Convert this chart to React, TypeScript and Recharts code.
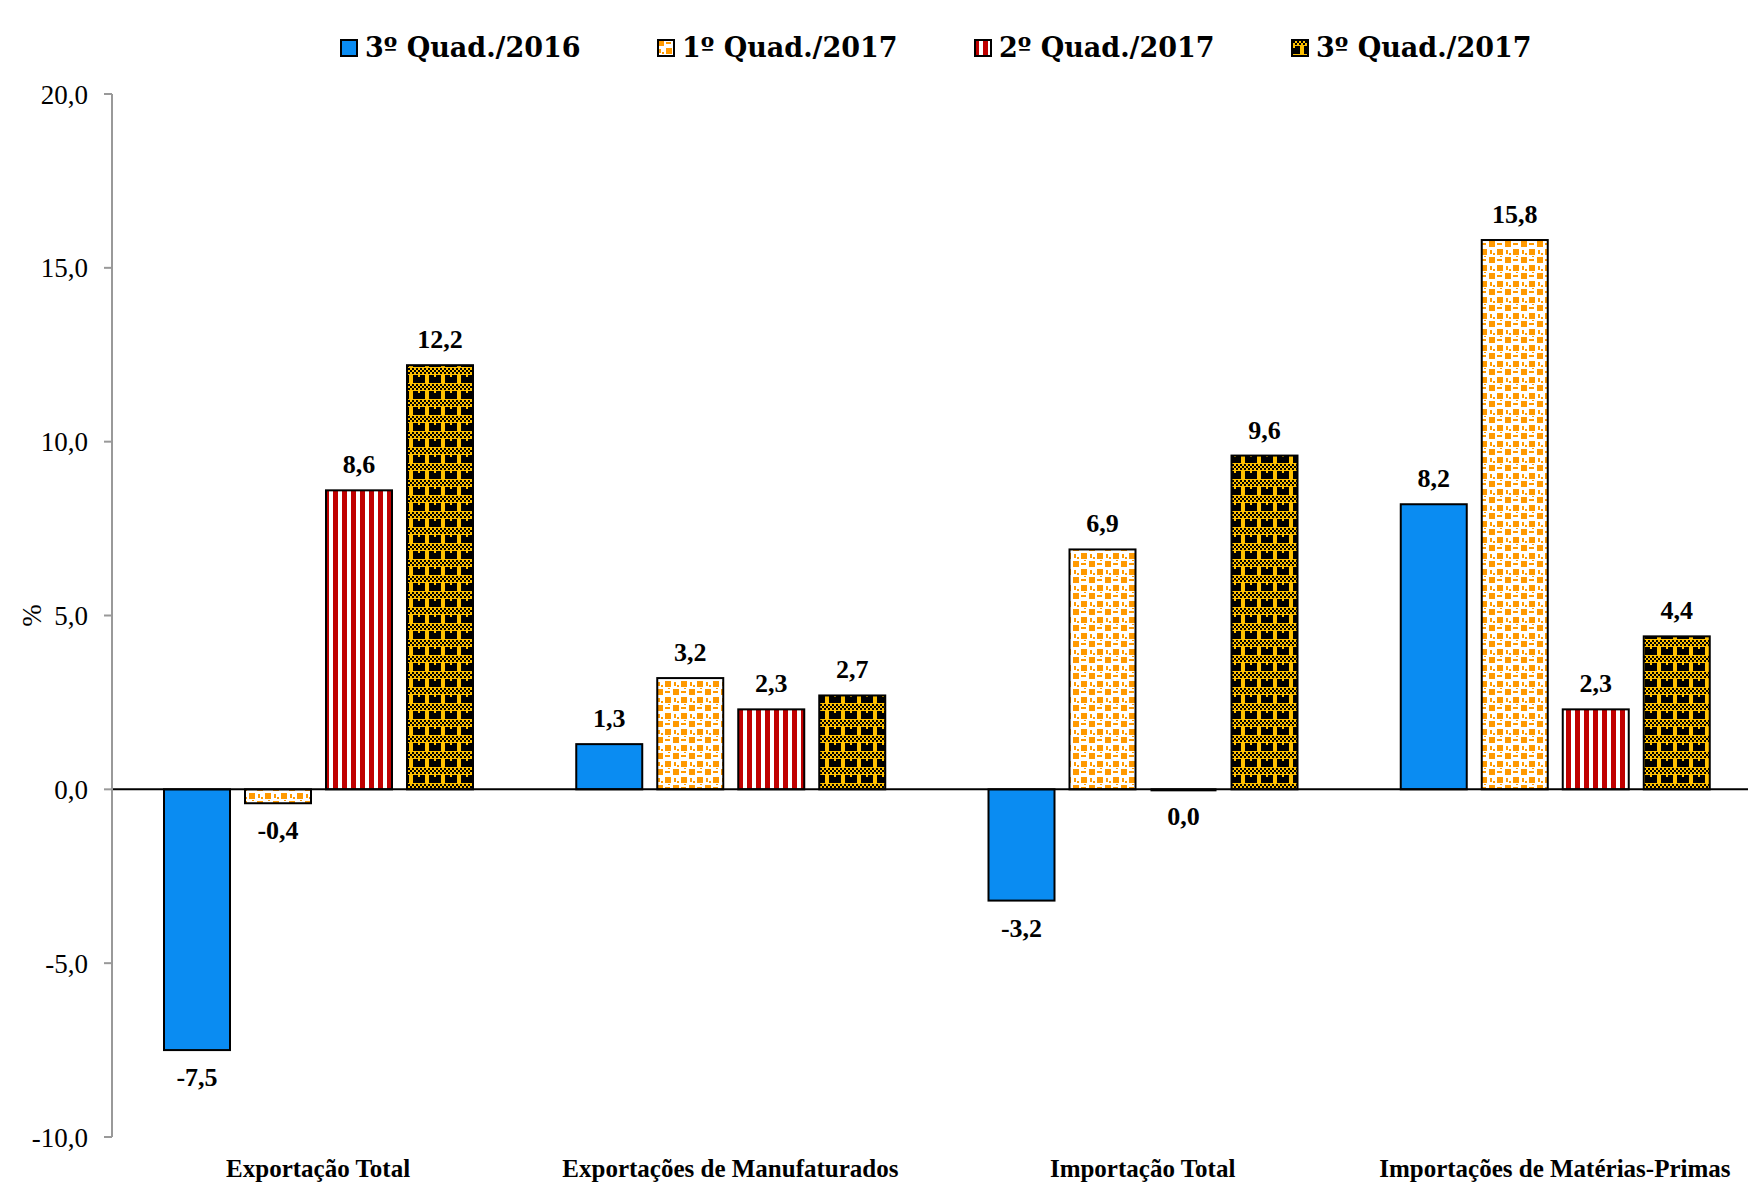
import React from 'react'
import { Bar, BarChart, XAxis, YAxis, Legend, LabelList, ReferenceLine } from 'recharts'

const categories = [
  'Exportação Total',
  'Exportações de Manufaturados',
  'Importação Total',
  'Importações de Matérias-Primas',
]

const q3_2016 = [-7.5, 1.3, -3.2, 8.2]
const q1_2017 = [-0.4, 3.2, 6.9, 15.8]
const q2_2017 = [8.6, 2.3, 0.0, 2.3]
const q3_2017 = [12.2, 2.7, 9.6, 4.4]

const yTicks = [-10, -5, 0, 5, 10, 15, 20]

const seriesNames = ['3º Quad./2016', '1º Quad./2017', '2º Quad./2017', '3º Quad./2017']
const seriesKeys = ['q3_2016', 'q1_2017', 'q2_2017', 'q3_2017']
const seriesFills = ['#0A8CF2', 'url(#patOrange)', 'url(#patRed)', 'url(#patGold)']

const data = categories.map((name, i) => ({
  name,
  q3_2016: q3_2016[i],
  q1_2017: q1_2017[i],
  q2_2017: q2_2017[i],
  q3_2017: q3_2017[i],
}))

const FONT = '"Liberation Serif", serif'
const LEGEND_FONT = '"DejaVu Serif", serif'
const fmt = (v: number) => v.toFixed(1).replace('.', ',')

function Patterns() {
  const checks: React.ReactNode[] = []
  for (let r = 0; r < 3; r++) {
    for (let c = 0; c < 4; c++) {
      checks.push(<rect key={`${r}-${c}`} x={c * 4 + (r % 2) * 2} y={r * 2} width={2} height={2} fill="#000" />)
    }
  }
  return (
    <svg width={0} height={0} style={{ position: 'absolute' }}>
      <defs>
        <pattern id="patOrange" width={16} height={16} patternUnits="userSpaceOnUse">
          <rect width={16} height={16} fill="#fff" />
          <rect x={1} y={1} width={6} height={6} fill="#FF9900" />
          <rect x={9} y={9} width={6} height={6} fill="#FF9900" />
          <rect x={9} y={3} width={5} height={2} fill="#FF9900" />
          <rect x={2} y={10} width={2} height={4} fill="#FF9900" />
          <rect x={12} y={0} width={2} height={1} fill="#FF9900" />
          <rect x={5} y={13} width={2} height={2} fill="#FF9900" />
        </pattern>
        <pattern id="patRed" width={9} height={9} patternUnits="userSpaceOnUse">
          <rect width={9} height={9} fill="#fff" />
          <rect x={0} y={0} width={5} height={9} fill="#C00000" />
        </pattern>
        <pattern id="patGold" width={16} height={16} patternUnits="userSpaceOnUse">
          <rect width={16} height={16} fill="#FFC000" />
          {checks}
          <rect x={0} y={7} width={9} height={8} fill="#000" />
          <rect x={13} y={7} width={3} height={8} fill="#000" />
          <rect x={2} y={7} width={2} height={2} fill="#FFC000" />
        </pattern>
      </defs>
    </svg>
  )
}

function BarShape(props: any) {
  const { x, y, width, height, fill } = props
  const top = Math.min(y, y + height)
  const h = Math.abs(height)
  if (h < 1) {
    return <rect x={x} y={top - 1} width={width} height={3} fill="#000" />
  }
  return <rect x={x} y={top} width={width} height={h} fill={fill} stroke="#000" strokeWidth={2} />
}

function ValueLabel(props: any) {
  const { x, y, width, height, value } = props
  const top = Math.min(y, y + height)
  const bottom = Math.max(y, y + height)
  const above = value > 0
  return (
    <text
      x={x + width / 2}
      y={above ? top - 17 : bottom + 36}
      textAnchor="middle"
      fontFamily={FONT}
      fontWeight="bold"
      fontSize={26}
      fill="#000"
    >
      {fmt(value)}
    </text>
  )
}

function CategoryTick({ x, y, payload }: any) {
  return (
    <text x={x} y={y + 32} textAnchor="middle" fontFamily={FONT} fontWeight="bold" fontSize={25} fill="#000">
      {payload.value}
    </text>
  )
}

function LegendContent() {
  return (
    <div style={{ display: 'flex', paddingLeft: 340, fontFamily: LEGEND_FONT, fontWeight: 'bold', fontSize: 27, lineHeight: '50px' }}>
      {seriesNames.map((n, i) => (
        <div key={n} style={{ display: 'flex', alignItems: 'center', gap: 7, width: 317 }}>
          <svg width={18} height={18}>
            <rect x={1} y={1} width={16} height={16} fill={seriesFills[i]} stroke="#000" strokeWidth={2} />
          </svg>
          <span>{n}</span>
        </div>
      ))}
    </div>
  )
}

export default function App() {
  return (
    <div style={{ position: 'fixed', left: 0, top: 0, width: 1748, height: 1182, overflow: 'hidden', background: '#fff' }}>
      <Patterns />
      <BarChart
        width={1790}
        height={1182}
        data={data}
        margin={{ top: 44, right: 29, bottom: 0, left: 0 }}
        barSize={66}
        barGap={15}
      >
        <Legend
          content={<LegendContent />}
          verticalAlign="top"
          wrapperStyle={{ position: 'absolute', top: 23, left: 0, width: 1790, height: 50 }}
        />
        <YAxis
          domain={[-10, 20]}
          ticks={yTicks}
          tickFormatter={fmt}
          width={112}
          stroke="#999"
          strokeWidth={2}
          tickSize={8}
          tickMargin={16}
          tick={{ fontFamily: FONT, fontSize: 27, fill: '#000' }}
          label={{
            value: '%',
            angle: -90,
            position: 'insideLeft',
            offset: 31,
            textAnchor: 'middle',
            style: { fontFamily: FONT, fontSize: 27, fill: '#000', textAnchor: 'middle' },
          }}
        />
        <XAxis dataKey="name" axisLine={false} tickLine={false} height={45} tick={<CategoryTick />} interval={0} />
        <ReferenceLine y={0} stroke="#000" strokeWidth={2} />
        {seriesKeys.map((k, i) => (
          <Bar key={k} dataKey={k} name={seriesNames[i]} fill={seriesFills[i]} shape={<BarShape />} isAnimationActive={false}>
            <LabelList dataKey={k} content={<ValueLabel />} />
          </Bar>
        ))}
      </BarChart>
    </div>
  )
}
